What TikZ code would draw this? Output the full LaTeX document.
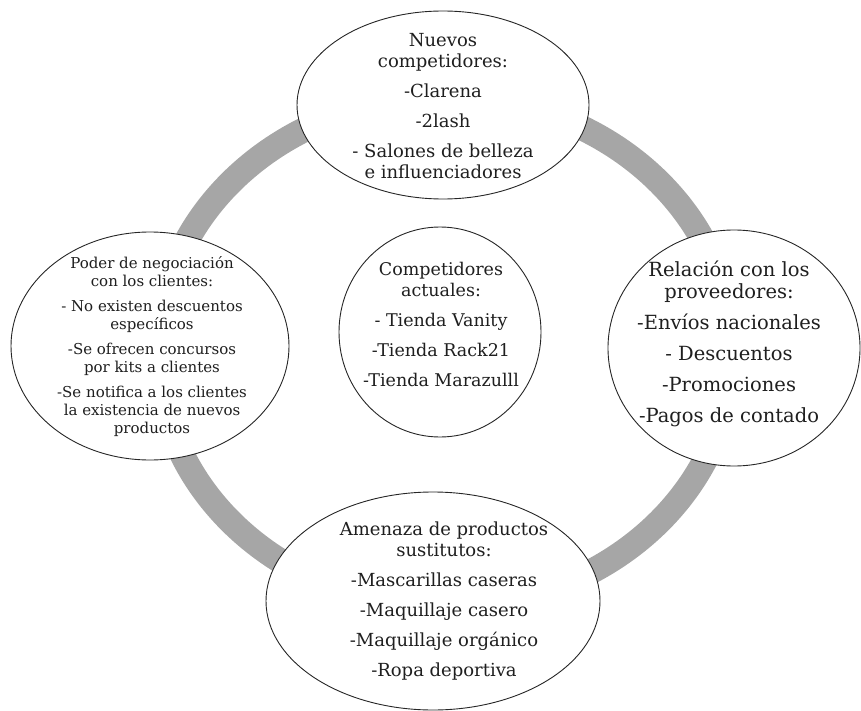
\documentclass[tikz,border=0pt]{standalone}
\usepackage{fontspec}
\setmainfont{DejaVu Serif}
\usetikzlibrary{shapes.geometric}
\tikzset{
  ring/.style={draw=black!35, line width=25pt},
  bub/.style={ellipse, draw=black!85, line width=0.9pt, fill=white, inner sep=0pt},
  txt/.style={align=center, text=black!88, inner sep=0pt},
  txtbig/.style={txt, font=\fontsize{18}{21}\selectfont},
  txtsmall/.style={txt, font=\fontsize{15}{18}\selectfont}
}
\begin{document}
\begin{tikzpicture}[x=1pt,y=-1pt]
\useasboundingbox (0,0) rectangle (861,711);
\coordinate (rc) at (445,352);
\draw[ring] (rc) ellipse [x radius=287pt, y radius=255pt];
\node[bub, minimum width=292pt, minimum height=188pt] (nuevos) at (443,105) {};
\node[bub, minimum width=278pt, minimum height=228pt] (poder) at (150,346) {};
\node[bub, minimum width=202pt, minimum height=210pt] (actuales) at (440,332) {};
\node[bub, minimum width=252pt, minimum height=236pt] (prov) at (734,348) {};
\node[bub, minimum width=334pt, minimum height=218pt] (sust) at (433,601) {};
\node[txtbig] (tnuevos) at (443,106) {Nuevos\\competidores:\\[9pt]-Clarena\\[9pt]-2lash\\[9pt]- Salones de belleza\\e influenciadores};
\node[txtsmall] (tpoder) at (152,347) {Poder de negociación\\con los clientes:\\[7pt]- No existen descuentos\\específicos\\[7pt]-Se ofrecen concursos\\por kits a clientes\\[7pt]-Se notifica a los clientes\\la existencia de nuevos\\productos};
\node[txt, font=\fontsize{17.5}{21}\selectfont] (tactuales) at (441,324) {Competidores\\actuales:\\[9pt]- Tienda Vanity\\[9pt]-Tienda Rack21\\[9pt]-Tienda Marazulll};
\node[txt, font=\fontsize{19.5}{22}\selectfont] (tprov) at (729,344) {Relación con los\\proveedores:\\[9pt]-Envíos nacionales\\[9pt]- Descuentos\\[9pt]-Promociones\\[9pt]-Pagos de contado};
\node[txtbig] (tsust) at (444,601) {Amenaza de productos\\sustitutos:\\[9pt]-Mascarillas caseras\\[9pt]-Maquillaje casero\\[9pt]-Maquillaje orgánico\\[9pt]-Ropa deportiva};
\end{tikzpicture}
\end{document}
